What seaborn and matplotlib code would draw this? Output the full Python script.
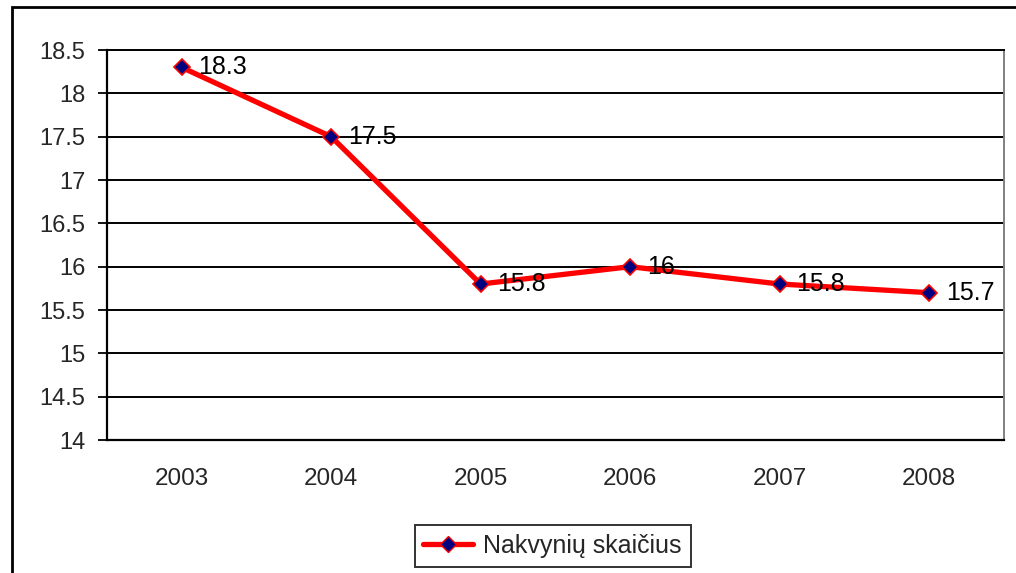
import numpy as np
import pandas as pd
import matplotlib
matplotlib.use("Agg")
import matplotlib.pyplot as plt
from matplotlib.patches import Rectangle
import seaborn as sns

# data
years = ["2003", "2004", "2005", "2006", "2007", "2008"]
values = [18.3, 17.5, 15.8, 16.0, 15.8, 15.7]
point_labels = ["18.3", "17.5", "15.8", "16", "15.8", "15.7"]
series_name = "Nakvynių skaičius"

sns.set_style("white")
plt.rcParams["font.family"] = ["Liberation Sans", "DejaVu Sans"]

df = pd.DataFrame({"pos": np.arange(len(years)), "val": values, "serie": series_name})

fig = plt.figure(figsize=(10.16, 5.73), dpi=100)
ax = fig.add_axes([0.1053, 0.2321, 0.8826, 0.6806])

sns.lineplot(data=df, x="pos", y="val", hue="serie", palette=["#FF0000"],
             linewidth=3.8, marker="D", markersize=8, ax=ax, legend=False)
line = ax.lines[0]
line.set_markerfacecolor("#000080")
line.set_markeredgecolor("#FF0000")
line.set_markeredgewidth(1.2)

# point labels
for x, y, lab in zip(df["pos"], df["val"], point_labels):
    ax.annotate(lab, (x, y), xytext=(12, 0), textcoords="offset points",
                ha="left", va="center", fontsize=18, color="black")

ax.set_xlim(-0.5, len(years) - 0.5)
ax.set_ylim(14, 18.5)
ax.set_yticks(np.arange(14, 18.51, 0.5))
ax.set_yticklabels(["14", "14.5", "15", "15.5", "16", "16.5", "17", "17.5", "18", "18.5"])
ax.yaxis.grid(True, color="black", linewidth=1.4)
ax.set_axisbelow(True)

ax.set_xticks(np.arange(len(years)))
ax.set_xticklabels(years)
ax.set_xticks(np.arange(len(years) + 1) - 0.5, minor=True)
ax.tick_params(axis="x", which="major", length=0, pad=20, labelsize=17.5)
ax.tick_params(axis="x", which="minor", length=6.5, width=1.3, color="black", direction="out")
ax.tick_params(axis="y", length=6.5, width=1.3, color="black", direction="out", pad=9, labelsize=17, left=True)

ax.set_xlabel("")
ax.set_ylabel("")
for s in ["left", "bottom"]:
    ax.spines[s].set_color("black")
    ax.spines[s].set_linewidth(1.6)
ax.spines["right"].set_color("#808080")
ax.spines["right"].set_linewidth(1.4)
ax.spines["top"].set_color("black")
ax.spines["top"].set_linewidth(1.4)

# legend at the bottom
handle = plt.Line2D([], [], color="#FF0000", linewidth=3.8, marker="D", markersize=8,
                    markerfacecolor="#000080", markeredgecolor="#FF0000")
leg = fig.legend([handle], [series_name], loc="center", bbox_to_anchor=(0.544, 0.047),
                 fontsize=18, frameon=True, fancybox=False, handlelength=2.0,
                 borderpad=0.35, handletextpad=0.4)
leg.get_frame().set_edgecolor("black")
leg.get_frame().set_linewidth(1.4)

# outer chart border
fig.add_artist(Rectangle((0.0118, -0.05), 1.2, 0.9878 + 0.05, transform=fig.transFigure,
                         fill=False, edgecolor="black", linewidth=2))

fig.savefig("out.png", dpi=100)
